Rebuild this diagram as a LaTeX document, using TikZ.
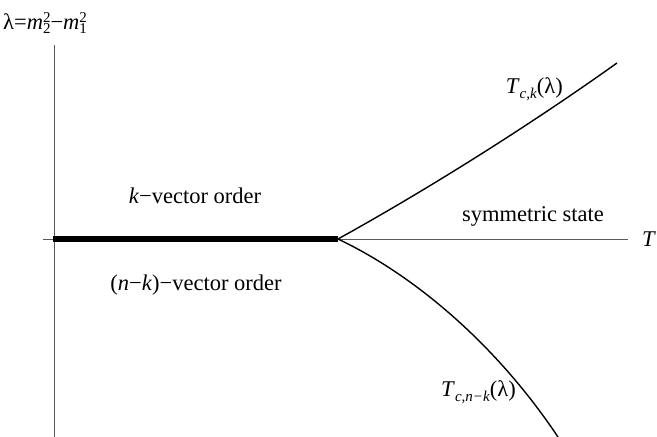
\documentclass[tikz,border=0pt]{standalone}
\usepackage{fontspec}
\setmainfont{Liberation Serif}
\newcommand{\mysmall}[1]{{\fontsize{15}{15}\selectfont #1}}
\newcommand{\mysub}[1]{\raisebox{-0.45ex}{\mysmall{#1}}}
\newcommand{\mysupsub}[2]{\raisebox{-0.45ex}{\vbox{\offinterlineskip\hbox{\mysmall{#1}}\kern2pt\hbox{\mysmall{#2}}}}}
\begin{document}
\begin{tikzpicture}[x=1pt,y=-1pt,
  lbl/.style={font=\fontsize{22.5}{26}\selectfont, inner sep=0pt},
  axisline/.style={line width=0.9pt, black!65},
  curveline/.style={line width=1.4pt, black}]
\useasboundingbox (0,0) rectangle (657,437);
\coordinate (O) at (54,239);
\coordinate (Ytop) at (54,45);
\coordinate (Ybot) at (54,437);
\coordinate (Xleft) at (43,239);
\coordinate (Xright) at (628,239);
\coordinate (C) at (338,239);
\coordinate (U) at (617,63);
\coordinate (L) at (558,437);
\draw[axisline] (Ytop) -- (Ybot);
\draw[axisline] (Xleft) -- (Xright);
\draw[line width=5.5pt] (53,239) -- (C);
\draw[curveline] (C) .. controls (430,188) and (530,125) .. (U);
\draw[curveline] (C) .. controls (420,278) and (500,350) .. (L);
\node[lbl, anchor=west] (ylab) at (3,23) {λ=\textit{m}\mysupsub{2}{2}−\textit{m}\mysupsub{2}{1}};
\node[lbl, anchor=west] (xlab) at (642,239) {\textit{T}};
\node[lbl] (kvo) at (195,196) {\textit{k}−vector order};
\node[lbl] (nkvo) at (196,285) {(\textit{n}−\textit{k})−vector order};
\node[lbl] (sym) at (533,216) {symmetric state};
\node[lbl, anchor=east] (tck) at (563,89) {\textit{T}\mysub{\textit{c,k}}(λ)};
\node[lbl, anchor=east] (tcnk) at (516,392) {\textit{T}\mysub{\textit{c,n−k}}(λ)};
\end{tikzpicture}
\end{document}
